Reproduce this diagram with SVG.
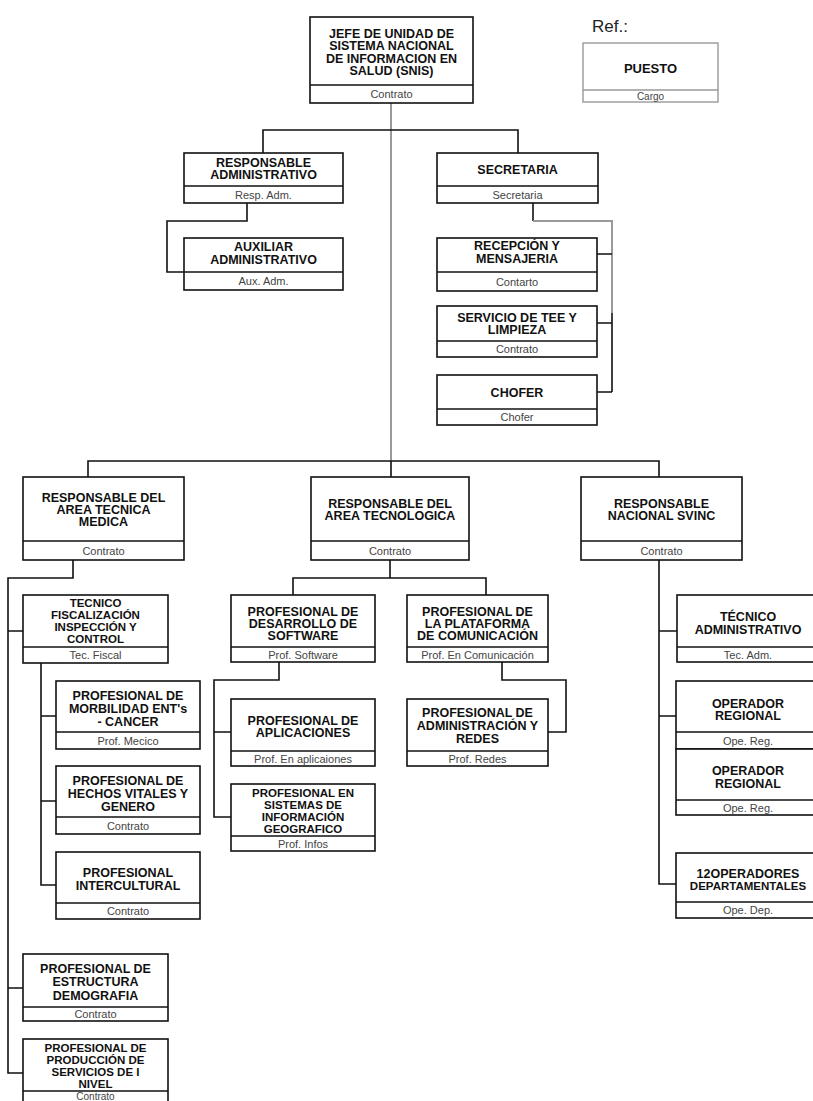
<svg xmlns="http://www.w3.org/2000/svg" width="813" height="1101" viewBox="0 0 813 1101">
<style>
.box{fill:#fff;stroke:#111;stroke-width:1.6}
.div{stroke:#111;stroke-width:1.6}
.t{font-family:"Liberation Sans",Arial,sans-serif;font-weight:bold;font-size:12.5px;fill:#111;text-anchor:middle}
.t4{font-size:11.5px}
.s{font-family:"Liberation Sans",Arial,sans-serif;font-size:11px;fill:#444;text-anchor:middle}
.c{fill:none;stroke:#111;stroke-width:1.6}
.g{fill:none;stroke:#999;stroke-width:2}
.lg{fill:#fff;stroke:#999;stroke-width:1.4}
</style>
<rect width="813" height="1101" fill="#fff"/>
<g id="connectors">
<path class="g" d="M391,103 V461"/>
<path class="c" d="M263,153 V130 H518 V153"/>
<path class="c" d="M247,203 V221 H167 V272 H184"/>
<path class="c" d="M533,203 V221"/>
<path class="g" d="M533,221 H612 V313"/>
<path class="c" d="M612,313 V392 M597,254 H612 M597,323 H612 M597,392 H612"/>
<path class="c" d="M88,477 V461 H659 V477 M391,461 V477"/>
<path class="c" d="M73,560 V578 H8 V1073 H23 M8,631 H23 M8,988 H23"/>
<path class="c" d="M41,663 V885 H56 M41,716 H56 M41,801 H56"/>
<path class="c" d="M390,560 V578 M293,595 V578 H486 V595"/>
<path class="c" d="M279,662 V680 H214 V817 H231 M214,732 H231"/>
<path class="c" d="M502,662 V680 H566 V732 H548"/>
<path class="c" d="M659,560 V884 H676 M659,631 H677 M659,716 H676"/>
</g>
<g id="legend">
<text x="592" y="32" style="font-family:'Liberation Sans',Arial,sans-serif;font-size:17px;fill:#222">Ref.:</text>
<rect class="lg" x="583" y="43" width="135" height="59"/>
<line x1="583" y1="90" x2="718" y2="90" stroke="#999" stroke-width="1.4"/>
<text class="t" x="650.5" y="73" style="font-size:13px">PUESTO</text>
<text class="s" x="650.5" y="99.5" style="font-size:10px">Cargo</text>
</g>
<g id="jefe">
<rect class="box" x="310" y="17" width="163" height="86"/>
<line class="div" x1="310" y1="85" x2="473" y2="85"/>
<text class="t"><tspan x="391.5" y="37.5">JEFE DE UNIDAD DE</tspan><tspan x="391.5" y="50">SISTEMA NACIONAL</tspan><tspan x="391.5" y="62.5">DE INFORMACION EN</tspan><tspan x="391.5" y="75">SALUD (SNIS)</tspan></text>
<text class="s" x="391.5" y="98">Contrato</text>
</g>
<g id="resp-admin">
<rect class="box" x="184" y="153" width="159" height="50"/>
<line class="div" x1="184" y1="186" x2="343" y2="186"/>
<text class="t"><tspan x="263.5" y="166.5">RESPONSABLE</tspan><tspan x="263.5" y="179">ADMINISTRATIVO</tspan></text>
<text class="s" x="263.5" y="198.5">Resp. Adm.</text>
</g>
<g id="secretaria">
<rect class="box" x="437" y="153" width="161" height="50"/>
<line class="div" x1="437" y1="186" x2="598" y2="186"/>
<text class="t" x="517.5" y="173.5">SECRETARIA</text>
<text class="s" x="517.5" y="198.5">Secretaria</text>
</g>
<g id="aux-admin">
<rect class="box" x="184" y="238" width="159" height="52"/>
<line class="div" x1="184" y1="272" x2="343" y2="272"/>
<text class="t"><tspan x="263.5" y="250.5">AUXILIAR</tspan><tspan x="263.5" y="263.5">ADMINISTRATIVO</tspan></text>
<text class="s" x="263.5" y="285">Aux. Adm.</text>
</g>
<g id="recepcion">
<rect class="box" x="437" y="238" width="160" height="53"/>
<line class="div" x1="437" y1="272" x2="597" y2="272"/>
<text class="t"><tspan x="517" y="249.5">RECEPCIÓN Y</tspan><tspan x="517" y="262.5">MENSAJERIA</tspan></text>
<text class="s" x="517" y="285.5">Contarto</text>
</g>
<g id="servicio">
<rect class="box" x="437" y="306" width="160" height="51"/>
<line class="div" x1="437" y1="341" x2="597" y2="341"/>
<text class="t"><tspan x="517" y="321.5">SERVICIO DE TEE Y</tspan><tspan x="517" y="334">LIMPIEZA</tspan></text>
<text class="s" x="517" y="353">Contrato</text>
</g>
<g id="chofer">
<rect class="box" x="437" y="375" width="160" height="50"/>
<line class="div" x1="437" y1="409" x2="597" y2="409"/>
<text class="t" x="517" y="397">CHOFER</text>
<text class="s" x="517" y="421">Chofer</text>
</g>
<g id="resp-medica">
<rect class="box" x="23" y="477" width="161" height="83"/>
<line class="div" x1="23" y1="541" x2="184" y2="541"/>
<text class="t"><tspan x="103.5" y="501.5">RESPONSABLE DEL</tspan><tspan x="103.5" y="513.5">AREA TECNICA</tspan><tspan x="103.5" y="526">MEDICA</tspan></text>
<text class="s" x="103.5" y="554.5">Contrato</text>
</g>
<g id="resp-tecnologica">
<rect class="box" x="311" y="477" width="158" height="83"/>
<line class="div" x1="311" y1="541" x2="469" y2="541"/>
<text class="t"><tspan x="390" y="507.5">RESPONSABLE DEL</tspan><tspan x="390" y="519.5">AREA TECNOLOGICA</tspan></text>
<text class="s" x="390" y="554.5">Contrato</text>
</g>
<g id="resp-nacional">
<rect class="box" x="581" y="477" width="161" height="83"/>
<line class="div" x1="581" y1="541" x2="742" y2="541"/>
<text class="t"><tspan x="661.5" y="507.5">RESPONSABLE</tspan><tspan x="661.5" y="519.5">NACIONAL SVINC</tspan></text>
<text class="s" x="661.5" y="554.5">Contrato</text>
</g>
<g id="tecnico-fiscal">
<rect class="box" x="23" y="595" width="145" height="68"/>
<line class="div" x1="23" y1="647" x2="168" y2="647"/>
<text class="t t4"><tspan x="95.5" y="607">TECNICO</tspan><tspan x="95.5" y="619">FISCALIZACIÓN</tspan><tspan x="95.5" y="631">INSPECCIÓN Y</tspan><tspan x="95.5" y="643">CONTROL</tspan></text>
<text class="s" x="95.5" y="659">Tec. Fiscal</text>
</g>
<g id="desarrollo">
<rect class="box" x="231" y="595" width="144" height="67"/>
<line class="div" x1="231" y1="647" x2="375" y2="647"/>
<text class="t"><tspan x="303" y="615.5">PROFESIONAL DE</tspan><tspan x="303" y="627.5">DESARROLLO DE</tspan><tspan x="303" y="639.5">SOFTWARE</tspan></text>
<text class="s" x="303" y="658.5">Prof. Software</text>
</g>
<g id="plataforma">
<rect class="box" x="407" y="595" width="141" height="67"/>
<line class="div" x1="407" y1="647" x2="548" y2="647"/>
<text class="t"><tspan x="477.5" y="615.5">PROFESIONAL DE</tspan><tspan x="477.5" y="627.5">LA PLATAFORMA</tspan><tspan x="477.5" y="639.5">DE COMUNICACIÓN</tspan></text>
<text class="s" x="477.5" y="658.5">Prof. En Comunicación</text>
</g>
<g id="tecnico-admin">
<rect class="box" x="677" y="595" width="145" height="67"/>
<line class="div" x1="677" y1="647" x2="822" y2="647"/>
<text class="t"><tspan x="748" y="621">TÉCNICO</tspan><tspan x="748" y="634">ADMINISTRATIVO</tspan></text>
<text class="s" x="748" y="658.5">Tec. Adm.</text>
</g>
<g id="morbilidad">
<rect class="box" x="56" y="681" width="144" height="68"/>
<line class="div" x1="56" y1="732" x2="200" y2="732"/>
<text class="t"><tspan x="128" y="699.5">PROFESIONAL DE</tspan><tspan x="128" y="712.5">MORBILIDAD ENT's</tspan><tspan x="128" y="725.5">- CANCER</tspan></text>
<text class="s" x="128" y="744.5">Prof. Mecico</text>
</g>
<g id="hechos">
<rect class="box" x="56" y="766" width="144" height="68"/>
<line class="div" x1="56" y1="817" x2="200" y2="817"/>
<text class="t"><tspan x="128" y="784.5">PROFESIONAL DE</tspan><tspan x="128" y="797.5">HECHOS VITALES Y</tspan><tspan x="128" y="811">GENERO</tspan></text>
<text class="s" x="128" y="829.5">Contrato</text>
</g>
<g id="intercultural">
<rect class="box" x="56" y="852" width="144" height="67"/>
<line class="div" x1="56" y1="903" x2="200" y2="903"/>
<text class="t"><tspan x="128" y="876.5">PROFESIONAL</tspan><tspan x="128" y="889.5">INTERCULTURAL</tspan></text>
<text class="s" x="128" y="915">Contrato</text>
</g>
<g id="estructura">
<rect class="box" x="23" y="954" width="145" height="67"/>
<line class="div" x1="23" y1="1007" x2="168" y2="1007"/>
<text class="t"><tspan x="95.5" y="972.5">PROFESIONAL DE</tspan><tspan x="95.5" y="986">ESTRUCTURA</tspan><tspan x="95.5" y="999.5">DEMOGRAFIA</tspan></text>
<text class="s" x="95.5" y="1018">Contrato</text>
</g>
<g id="produccion">
<rect class="box" x="23" y="1039" width="145" height="70"/>
<line class="div" x1="23" y1="1091" x2="168" y2="1091"/>
<text class="t t4"><tspan x="95.5" y="1051.5">PROFESIONAL DE</tspan><tspan x="95.5" y="1063.5">PRODUCCIÓN DE</tspan><tspan x="95.5" y="1075.5">SERVICIOS DE I</tspan><tspan x="95.5" y="1087.5">NIVEL</tspan></text>
<text class="s" x="95.5" y="1099.5" style="font-size:10px">Contrato</text>
</g>
<g id="aplicaciones">
<rect class="box" x="231" y="699" width="144" height="67"/>
<line class="div" x1="231" y1="751" x2="375" y2="751"/>
<text class="t"><tspan x="303" y="724.5">PROFESIONAL DE</tspan><tspan x="303" y="736.5">APLICACIONES</tspan></text>
<text class="s" x="303" y="762.5">Prof. En aplicaiones</text>
</g>
<g id="sig">
<rect class="box" x="231" y="784" width="144" height="67"/>
<line class="div" x1="231" y1="836" x2="375" y2="836"/>
<text class="t t4"><tspan x="303" y="796.5">PROFESIONAL EN</tspan><tspan x="303" y="808.5">SISTEMAS DE</tspan><tspan x="303" y="820.5">INFORMACIÓN</tspan><tspan x="303" y="832.5">GEOGRAFICO</tspan></text>
<text class="s" x="303" y="847.5">Prof. Infos</text>
</g>
<g id="redes">
<rect class="box" x="407" y="699" width="141" height="67"/>
<line class="div" x1="407" y1="751" x2="548" y2="751"/>
<text class="t"><tspan x="477.5" y="716.5">PROFESIONAL DE</tspan><tspan x="477.5" y="729.5">ADMINISTRACIÓN Y</tspan><tspan x="477.5" y="742.5">REDES</tspan></text>
<text class="s" x="477.5" y="762.5">Prof. Redes</text>
</g>
<g id="operador-1">
<rect class="box" x="676" y="681" width="146" height="68"/>
<line class="div" x1="676" y1="732" x2="822" y2="732"/>
<text class="t"><tspan x="748" y="707.5">OPERADOR</tspan><tspan x="748" y="719.5">REGIONAL</tspan></text>
<text class="s" x="748" y="744.5">Ope. Reg.</text>
</g>
<g id="operador-2">
<rect class="box" x="676" y="749" width="146" height="66"/>
<line class="div" x1="676" y1="800" x2="822" y2="800"/>
<text class="t"><tspan x="748" y="774.5">OPERADOR</tspan><tspan x="748" y="787.5">REGIONAL</tspan></text>
<text class="s" x="748" y="811.5">Ope. Reg.</text>
</g>
<g id="operadores-dep">
<rect class="box" x="676" y="853" width="146" height="65"/>
<line class="div" x1="676" y1="902" x2="822" y2="902"/>
<text class="t"><tspan x="748" y="877.5">12OPERADORES</tspan><tspan x="748" y="890" style="font-size:11.5px">DEPARTAMENTALES</tspan></text>
<text class="s" x="748" y="914">Ope. Dep.</text>
</g>
</svg>
